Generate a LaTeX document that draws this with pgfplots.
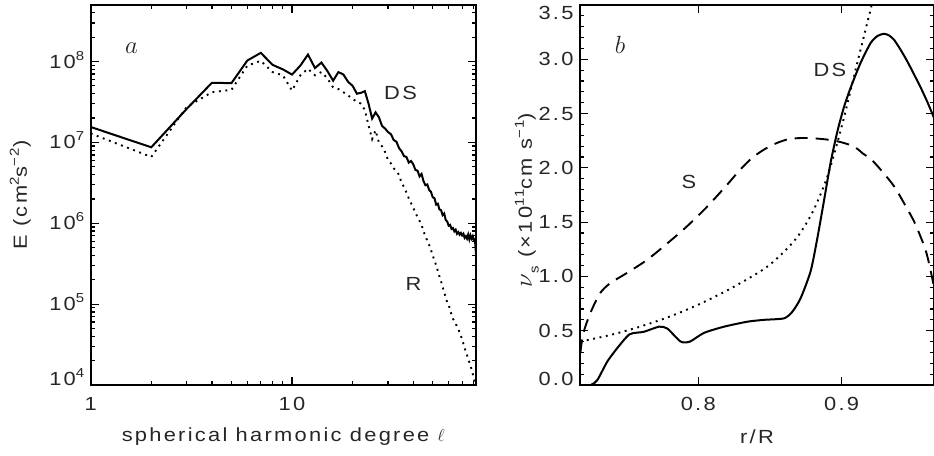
\documentclass[border=0pt]{standalone}
\usepackage{pgfplots}
\pgfplotsset{compat=1.18}
\usepackage{fontspec}
\setmainfont{Liberation Sans}[FakeStretch=1.15,LetterSpace=12]
\newcommand{\sups}[1]{\raisebox{0.42em}[0pt][0pt]{\fontsize{13}{14}\selectfont #1}}
\newcommand{\subs}[1]{\raisebox{-0.35em}[0pt][0pt]{\fontsize{13}{14}\selectfont #1}}
\newcommand{\up}[2]{\raisebox{#1}[\height][\depth]{#2}}
\pgfplotsset{
  idl/.style={
    scale only axis, height=380pt, anchor=south west,
    axis line style={line width=1.7pt},
    tick style={line width=1.2pt, black},
    major tick length=8pt, minor tick length=4pt,
    tick align=inside,
    ticklabel style={font=\fontsize{19}{22}\selectfont, text=black!85},
    /pgf/number format/assume math mode=true,
  },
  dsline/.style={black, line width=2pt, no marks},
  dotline/.style={black, line width=1.9pt, dash pattern=on 1.9pt off 4.6pt, no marks},
  dashline/.style={black, line width=1.9pt, dash pattern=on 13pt off 8pt, no marks},
}
\begin{document}
\fontsize{19}{22}\selectfont
\begin{tikzpicture}
\path[use as bounding box] (0,0) rectangle (934pt,455pt);
% ---------------- panel a ----------------
\begin{axis}[idl, at={(90.7pt,70pt)}, width=385.3pt,
  xmode=log, ymode=log, xmin=1, xmax=82, ymin=1e4, ymax=5e8,
  xtick={1,10}, xticklabels={1,10},
  minor xtick={2,3,4,5,6,7,8,9,20,30,40,50,60,70,80},
  ytick={1e4,1e5,1e6,1e7,1e8},
  yticklabels={\up{6pt}{10\sups{4}},10\sups{5},10\sups{6},10\sups{7},10\sups{8}},
  minor ytick={2e4,3e4,4e4,5e4,6e4,7e4,8e4,9e4,2e5,3e5,4e5,5e5,6e5,7e5,8e5,9e5,2e6,3e6,4e6,5e6,6e6,7e6,8e6,9e6,2e7,3e7,4e7,5e7,6e7,7e7,8e7,9e7,2e8,3e8,4e8},
  xticklabel style={yshift=-6pt},
]
\addplot[dsline] coordinates {
(1,1.55e7)(2,8.7e6)(3,2.6e7)(4,5.46e7)(5,5.4e7)(6,1.03e8)(7,1.28e8)(8,9.1e7)(9,8.0e7)(10,6.9e7)
(11,8.9e7)(12,1.22e8)(13,8.3e7)(14,9.7e7)(15,7.6e7)(16,5.8e7)(17,7.4e7)(18,6.9e7)(19,5.6e7)(20,5.0e7)
(21,4.0e7)(22,4.1e7)(23,4.3e7)(24,3.0e7)(25,1.97e7)(26,2.35e7)(27,2.05e7)(28,1.6e7)(29,1.48e7)(30,1.34e7)
(31,1.26e7)(32,1.07e7)(33,1.02e7)(34,8.51e6)(35,7.76e6)(36,6.76e6)(37,6.61e6)(38,5.62e6)(39,5.89e6)(40,5.37e6)
(41,4.57e6)(42,4.47e6)(43,3.80e6)(44,4.07e6)(45,3.31e6)(46,2.95e6)(47,3.02e6)(48,2.57e6)(49,2.45e6)(50,2.09e6)
(51,2.04e6)(52,1.70e6)(53,1.74e6)(54,1.48e6)(55,1.45e6)(56,1.26e6)(57,1.32e6)(58,1.10e6)(59,1.05e6)(60,9.33e5)
(61,9.55e5)(62,8.51e5)(63,8.71e5)(64,7.94e5)(65,8.32e5)(66,7.41e5)(67,7.76e5)(68,7.24e5)(69,7.59e5)(70,7.08e5)
(71,7.41e5)(72,6.61e5)(73,6.92e5)(74,6.46e5)(75,7.24e5)(76,6.31e5)(77,7.08e5)(78,6.46e5)(79,6.92e5)(80,6.17e5)
(81,6.31e5)(82,4.17e5)
};
\addplot[dotline] coordinates {
(1,1.29e7)(2,6.61e6)(3,2.75e7)(4,4.17e7)(5,4.47e7)(6,8.91e7)(7,1.02e8)(8,7.41e7)(9,6.76e7)(10,4.37e7)
(11,6.76e7)(12,8.13e7)(13,6.76e7)(14,7.41e7)(15,6.17e7)(16,4.79e7)(17,4.57e7)(18,4.17e7)(19,3.80e7)(20,3.47e7)
(21,3.16e7)(22,3.02e7)(23,2.51e7)(24,1.62e7)(25,1.10e7)(26,1.41e7)(27,1.00e7)(28,8.91e6)(29,7.59e6)(30,6.03e6)
(31,5.50e6)(32,4.79e6)(33,4.37e6)(34,3.98e6)(35,3.16e6)(36,2.82e6)(37,2.40e6)(38,2.04e6)(39,1.78e6)(40,1.55e6)
(41,1.35e6)(42,1.20e6)(43,1.07e6)(44,9.55e5)(45,7.94e5)(46,6.92e5)(47,6.03e5)(48,5.37e5)(49,4.68e5)(50,3.98e5)
(51,3.47e5)(52,3.02e5)(53,2.57e5)(54,2.19e5)(55,1.91e5)(56,1.62e5)(57,1.41e5)(58,1.20e5)(59,1.05e5)(60,9.77e4)
(61,8.51e4)(62,7.41e4)(63,6.61e4)(64,6.17e4)(65,5.75e4)(66,5.25e4)(67,4.90e4)(68,4.47e4)(69,4.07e4)(70,3.63e4)
(71,3.24e4)(72,2.88e4)(73,2.57e4)(74,2.34e4)(75,2.09e4)(76,1.91e4)(77,1.74e4)(78,1.55e4)(79,1.38e4)(80,1.20e4)
(81,1.07e4)(82,9.55e3)
};
\node[text=black!85] at (rel axis cs:0.106,0.886) {\fontsize{34}{36}\selectfont$a$};
\node[text=black!85] at (axis cs:34.6,4.14e7) {DS};
\node[text=black!85] at (axis cs:40.1,1.77e5) {R};
\end{axis}
% ---------------- panel b ----------------
\begin{axis}[idl, at={(580pt,70pt)}, width=354pt,
  xmin=0.7175, xmax=0.9644, ymin=0, ymax=3.5,
  xtick={0.8,0.9}, xticklabels={0.8,0.9},
  ytick={0,0.5,1,1.5,2,2.5,3,3.5},
  yticklabels={\up{6pt}{0.0},0.5,1.0,1.5,2.0,2.5,3.0,\up{-8pt}{3.5}},
  minor y tick num=4,
  xticklabel style={yshift=-6pt},
]
\addplot[dsline, smooth, tension=0.4] coordinates {
(0.7175,0)(0.725,0)(0.7296,0.046)(0.7365,0.215)(0.7435,0.34)(0.7521,0.467)(0.762,0.49)(0.7726,0.537)
(0.7784,0.52)(0.7877,0.40)(0.7942,0.40)(0.804,0.48)(0.8179,0.537)(0.8342,0.583)(0.8458,0.60)(0.8598,0.614)
(0.8656,0.675)(0.8714,0.80)(0.8784,1.05)(0.8830,1.35)(0.8877,1.70)(0.8923,2.05)(0.8969,2.33)(0.9016,2.56)
(0.9063,2.74)(0.9133,2.97)(0.9202,3.15)(0.9250,3.215)(0.9295,3.235)(0.9330,3.22)(0.9365,3.18)(0.9410,3.09)
(0.9458,2.98)(0.9505,2.86)(0.9551,2.74)(0.9600,2.60)(0.9644,2.46)
};
\addplot[dashline, smooth, tension=0.5] coordinates {
(0.7178,0.30)(0.7190,0.42)(0.7210,0.53)(0.7256,0.69)(0.7315,0.845)(0.7384,0.936)(0.750,1.03)(0.764,1.15)
(0.778,1.30)(0.792,1.46)(0.806,1.64)(0.8198,1.84)(0.829,1.98)(0.8383,2.10)(0.850,2.20)(0.8616,2.26)
(0.872,2.275)(0.8825,2.27)(0.8953,2.25)(0.908,2.20)(0.915,2.13)(0.922,2.06)(0.936,1.84)(0.9458,1.62)
(0.950,1.52)(0.954,1.40)(0.9586,1.24)(0.9616,1.08)(0.9644,0.90)(0.966,0.75)
};
\addplot[dotline, smooth, tension=0.5] coordinates {
(0.7178,0.40)(0.74,0.465)(0.76,0.54)(0.78,0.63)(0.80,0.74)(0.82,0.87)(0.84,1.02)(0.85,1.11)
(0.86,1.23)(0.87,1.38)(0.88,1.60)(0.89,1.92)(0.90,2.38)(0.91,2.92)(0.92,3.45)(0.925,3.72)
};
\node[text=black!85] at (rel axis cs:0.113,0.895) {\fontsize{32}{34}\selectfont$b$};
\node[text=black!85] at (axis cs:0.8918,2.905) {DS};
\node[text=black!85] at (axis cs:0.7935,1.87) {S};
\end{axis}
% ---------------- axis titles ----------------
\node[rotate=90, text=black!85] at (22pt,260pt) {E (cm\sups{2}s\sups{−2})};
\node[rotate=90, text=black!85] at (527pt,255pt) {{\fontsize{23}{25}\selectfont$\nu$}\subs{s} (×10\sups{11}cm s\sups{−1})};
\node[text=black!85] at (283.3pt,18pt) {spherical harmonic degree $\ell$};
\node[text=black!85] at (757pt,18pt) {r/R};
\end{tikzpicture}
\end{document}
